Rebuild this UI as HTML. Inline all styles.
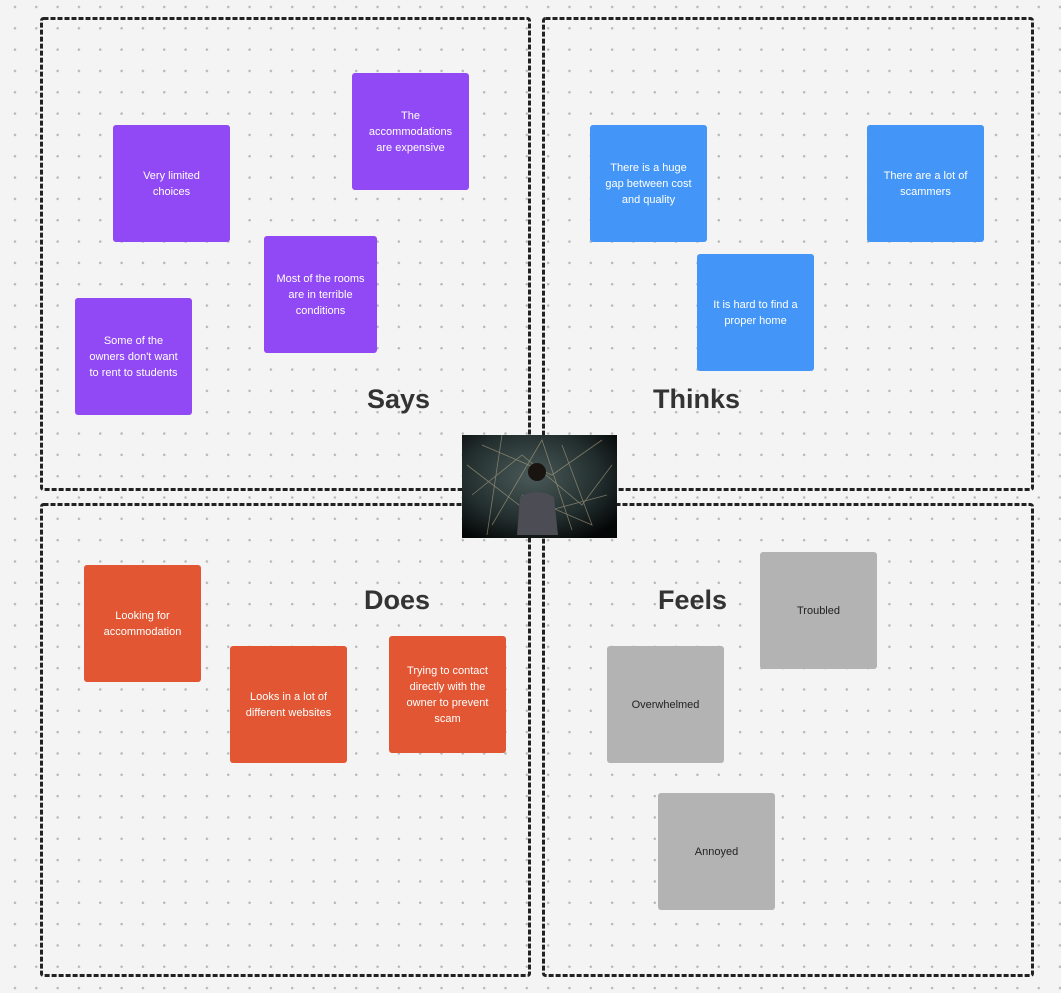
<!DOCTYPE html>
<html><head><style>
body{margin:0;width:1061px;height:993px;background:#f4f4f4;position:relative;overflow:hidden;font-family:"Liberation Sans",sans-serif;
background-image:radial-gradient(circle,#b8b8b8 1.1px,transparent 1.4px);background-size:21.33px 21.33px;background-position:4.3px -3.7px;}
.s{position:absolute;width:117px;height:117px;border-radius:3px;display:flex;align-items:center;justify-content:center;text-align:center;font-size:11px;line-height:16px;color:#fff;box-sizing:border-box;padding:0 10px}
.p{background:#9049f4}.b{background:#4396f7}.o{background:#e25633}.g{background:#b3b3b3;color:#222}
.t{position:absolute;font-size:27px;font-weight:bold;color:#333}
</style></head><body>
<svg style="position:absolute;left:0;top:0" width="1061" height="993">
<g fill="none" stroke="#222" stroke-width="3" stroke-dasharray="5 2">
<rect x="41.5" y="18.5" width="488" height="471" rx="2"/>
<rect x="543.5" y="18.5" width="489" height="471" rx="2"/>
<rect x="41.5" y="504.5" width="488" height="471" rx="2"/>
<rect x="543.5" y="504.5" width="489" height="471" rx="2"/>
</g></svg>

<div class="s p" style="left:352px;top:73px">The accommodations are expensive</div>
<div class="s p" style="left:113px;top:125px">Very limited choices</div>
<div class="s p" style="left:264px;top:236px;width:113px">Most of the rooms are in terrible conditions</div>
<div class="s p" style="left:75px;top:298px">Some of the owners don't want to rent to students</div>
<div class="t" style="left:367px;top:384px">Says</div>

<div class="s b" style="left:590px;top:125px">There is a huge gap between cost and quality</div>
<div class="s b" style="left:867px;top:125px">There are a lot of scammers</div>
<div class="s b" style="left:697px;top:254px">It is hard to find a proper home</div>
<div class="t" style="left:653px;top:384px">Thinks</div>

<div class="s o" style="left:84px;top:565px">Looking for accommodation</div>
<div class="s o" style="left:230px;top:646px">Looks in a lot of different websites</div>
<div class="s o" style="left:389px;top:636px">Trying to contact directly with the owner to prevent scam</div>
<div class="t" style="left:364px;top:585px">Does</div>

<div class="s g" style="left:760px;top:552px">Troubled</div>
<div class="s g" style="left:607px;top:646px">Overwhelmed</div>
<div class="s g" style="left:658px;top:793px">Annoyed</div>
<div class="t" style="left:658px;top:585px">Feels</div>

<svg style="position:absolute;left:462px;top:435px" width="155" height="103" viewBox="0 0 155 103">
<defs><radialGradient id="r" cx="0.45" cy="0.4" r="0.7"><stop offset="0" stop-color="#4a5a58"/><stop offset="0.6" stop-color="#243030"/><stop offset="1" stop-color="#050707"/></radialGradient></defs>
<rect width="155" height="103" fill="url(#r)"/>
<g stroke="#b8a88a" stroke-width="0.8" opacity="0.6" fill="none">
<path d="M20 10L90 40L140 5M10 60L60 20L120 70L150 30M30 90L80 5L110 95M5 30L70 80L145 60M40 0L25 100M100 10L130 90L60 60"/></g>
<circle cx="75" cy="37" r="9" fill="#1a1410"/>
<path d="M55 100L58 62Q75 52 92 62L96 100Z" fill="#4c4c55"/>
</svg>
</body></html>
